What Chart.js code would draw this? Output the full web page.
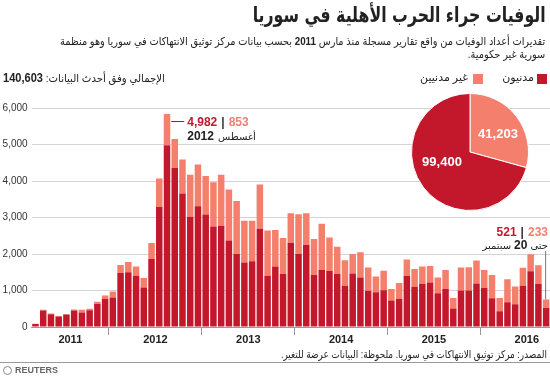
<!DOCTYPE html>
<html lang="ar">
<head>
<meta charset="utf-8">
<script src="https://cdn.jsdelivr.net/npm/chart.js@4"></script>
<style>
  body { margin: 0; background: #fff; }
  #box { position: relative; width: 550px; height: 377px; overflow: hidden; font-family: 'Liberation Sans', 'DejaVu Sans', sans-serif; color: #222; }
  #box canvas { position: absolute; }
  .txt { position: absolute; white-space: nowrap; }
  .r { transform-origin: right center; }
  .l { transform-origin: left center; }
  .sq { position: absolute; width: 10px; height: 10px; }
</style>
</head>
<body>
<div id="box">
  <canvas id="barChart" width="550" height="377" style="left:0;top:0"></canvas>
  <canvas id="pieChart" width="118" height="118" style="left:411px;top:93px"></canvas>

  <div class="txt r" dir="rtl" style="right:4px;top:3px;font:bold 21px 'DejaVu Sans';transform:scaleX(0.75)">الوفيات جراء الحرب الأهلية في سوريا</div>
  <div class="txt r" dir="rtl" style="right:5px;top:35px;font-size:11px;line-height:13px;text-align:right;transform:scaleX(0.89)">تقديرات أعداد الوفيات من واقع تقارير مسجلة منذ مارس <b>2011</b> بحسب بيانات مركز توثيق الانتهاكات في سوريا وهو منظمة<br>سورية غير حكومية.</div>

  <div class="sq" style="left:537px;top:74px;background:#c3172b"></div>
  <div class="txt" dir="rtl" style="right:16px;top:71px;font-size:11px">مدنيون</div>
  <div class="sq" style="left:473px;top:74px;background:#f47f6c"></div>
  <div class="txt" dir="rtl" style="right:82px;top:71px;font-size:11px">غير مدنيين</div>
  <div class="txt l" dir="rtl" style="left:3px;top:71px;font-size:11px;transform:scaleX(0.92)">الإجمالي وفق أحدث البيانات: <b style="font-size:12px">140,603</b></div>

  <div class="txt r" dir="rtl" style="right:3px;top:348px;font-size:10.5px;transform:scaleX(0.85)">المصدر: مركز توثيق الانتهاكات في سوريا.  ملحوظة: البيانات عرضة للتغير.</div>
  <div style="position:absolute;left:0;top:362px;width:550px;height:1px;background:#999"></div>
  <div style="position:absolute;left:3px;top:366px;width:7px;height:7px;border:1.5px solid #888;border-radius:50%"></div>
  <div class="txt" style="left:15px;top:365px;font:bold 9px 'Liberation Sans';color:#666">REUTERS</div>
</div>

<script>
const months = [
  '2011-03','2011-04','2011-05','2011-06','2011-07','2011-08','2011-09','2011-10','2011-11','2011-12',
  '2012-01','2012-02','2012-03','2012-04','2012-05','2012-06','2012-07','2012-08','2012-09','2012-10','2012-11','2012-12',
  '2013-01','2013-02','2013-03','2013-04','2013-05','2013-06','2013-07','2013-08','2013-09','2013-10','2013-11','2013-12',
  '2014-01','2014-02','2014-03','2014-04','2014-05','2014-06','2014-07','2014-08','2014-09','2014-10','2014-11','2014-12',
  '2015-01','2015-02','2015-03','2015-04','2015-05','2015-06','2015-07','2015-08','2015-09','2015-10','2015-11','2015-12',
  '2016-01','2016-02','2016-03','2016-04','2016-05','2016-06','2016-07','2016-08','2016-09'
];
// مدنيون
const civilians = [
  80,450,350,290,340,450,400,460,630,765,
  810,1480,1500,1405,1085,1865,3290,4982,4355,3655,3020,3305,
  3080,2755,2775,2370,2000,1770,1800,2690,1405,1660,1450,2310,
  2000,2250,1424,1562,1534,1451,1129,1468,1358,992,955,1010,
  725,771,1397,1102,1185,1220,928,1038,510,1000,1000,1195,
  1066,790,432,680,625,1129,1524,1176,521
];
// غير مدنيين
const nonCivilians = [
  10,20,20,10,10,30,70,40,60,95,
  165,220,280,250,255,435,780,853,795,935,1150,1150,
  1060,1210,1395,1395,1450,1140,1110,1215,1240,1000,985,805,
  1090,865,990,1265,920,745,700,535,690,635,430,530,
  315,435,455,485,475,450,430,525,285,630,640,625,
  495,635,365,625,485,495,470,515,233
];
// month under each year label
const yearTicks = {'2011-07':'2011','2012-06':'2012','2013-06':'2013','2014-06':'2014','2015-06':'2015','2016-06':'2016'};
const pieLabels = ['غير مدنيين','مدنيون'];
const pieValues = [41203, 99400];

const darkRed = '#c3172b';
const lightRed = '#f47f6c';
const gridGrey = '#d4d4d4';

const notes = {
  id: 'notes',
  afterDatasetsDraw(chart) {
    const { ctx, scales: { x, y } } = chart;
    const fmt = v => v.toLocaleString('en-US');
    ctx.save();
    ctx.textBaseline = 'alphabetic';

    // peak month
    const i = months.indexOf('2012-08');
    const bar = chart.getDatasetMeta(1).data[i];
    const top = y.getPixelForValue(civilians[i] + nonCivilians[i]);
    const right = bar.x + bar.width / 2;
    ctx.strokeStyle = '#444'; ctx.lineWidth = 1;
    ctx.beginPath(); ctx.moveTo(right + 1, top + 7.5); ctx.lineTo(right + 14, top + 7.5); ctx.stroke();
    let tx = right + 17, ty = top + 12;
    ctx.textAlign = 'left';
    ctx.font = 'bold 12px "Liberation Sans"';
    ctx.fillStyle = darkRed; ctx.fillText(fmt(civilians[i]), tx, ty);
    tx += ctx.measureText(fmt(civilians[i])).width + 4;
    ctx.fillStyle = '#333'; ctx.fillText('|', tx, ty);
    tx += ctx.measureText('|').width + 4;
    ctx.fillStyle = lightRed; ctx.fillText(fmt(nonCivilians[i]), tx, ty);
    tx = right + 17; ty += 14;
    ctx.fillStyle = '#222'; ctx.fillText('2012', tx, ty);
    tx += ctx.measureText('2012').width + 4;
    ctx.font = '10px "DejaVu Sans"'; ctx.fillText('أغسطس', tx, ty);

    // latest month
    const j = months.length - 1;
    const last = chart.getDatasetMeta(1).data[j];
    const top2 = y.getPixelForValue(civilians[j] + nonCivilians[j]);
    ctx.strokeStyle = '#777';
    ctx.beginPath(); ctx.moveTo(last.x - 0.5, 251); ctx.lineTo(last.x - 0.5, top2); ctx.stroke();
    let rx = 548; ty = 236;
    ctx.textAlign = 'right';
    ctx.font = 'bold 12px "Liberation Sans"';
    ctx.fillStyle = lightRed; ctx.fillText(fmt(nonCivilians[j]), rx, ty);
    rx -= ctx.measureText(fmt(nonCivilians[j])).width + 4;
    ctx.fillStyle = '#333'; ctx.fillText('|', rx, ty);
    rx -= ctx.measureText('|').width + 4;
    ctx.fillStyle = darkRed; ctx.fillText(fmt(civilians[j]), rx, ty);
    rx = 548; ty += 13;
    ctx.fillStyle = '#222';
    ctx.font = '10px "DejaVu Sans"'; ctx.fillText('حتى', rx, ty);
    rx -= ctx.measureText('حتى').width + 3;
    ctx.font = 'bold 12px "Liberation Sans"'; ctx.fillText('20', rx, ty);
    rx -= ctx.measureText('20').width + 3;
    ctx.font = '10px "DejaVu Sans"'; ctx.fillText('سبتمبر', rx, ty);
    ctx.restore();
  }
};

new Chart(document.getElementById('barChart'), {
  type: 'bar',
  data: {
    labels: months,
    datasets: [
      { label: 'مدنيون', data: civilians, backgroundColor: darkRed },
      { label: 'غير مدنيين', data: nonCivilians, backgroundColor: lightRed }
    ]
  },
  options: {
    responsive: false,
    animation: false,
    layout: { padding: { top: 108, bottom: 30, left: 0, right: 0 } },
    datasets: { bar: { categoryPercentage: 1, barPercentage: 0.84 } },
    plugins: { legend: { display: false }, tooltip: { enabled: false } },
    scales: {
      x: {
        stacked: true,
        border: { color: '#999' },
        grid: {
          offset: true,
          drawOnChartArea: false,
          tickLength: 8,
          color: c => (months[c.index] || '').endsWith('-01') ? '#999' : 'rgba(0,0,0,0)'
        },
        ticks: {
          autoSkip: false,
          maxRotation: 0,
          labelOffset: 3.9,
          padding: -2,
          color: '#222',
          font: { family: 'Liberation Sans', weight: 'bold', size: 11 },
          callback: (v, i) => yearTicks[months[i]] || ''
        },
        afterFit(s) { s.height = 20; }
      },
      y: {
        stacked: true,
        min: 0,
        max: 6000,
        border: { display: false },
        grid: {
          color: c => c.tick.value === 0 ? '#999' : gridGrey,
          drawTicks: false
        },
        ticks: {
          stepSize: 1000,
          padding: 4,
          color: '#333',
          font: { family: 'Liberation Sans', size: 10 }
        },
        afterFit(s) { s.width = 31.6; }
      }
    }
  },
  plugins: [notes]
});

const pieText = {
  id: 'pieText',
  afterDatasetsDraw(chart) {
    const { ctx } = chart;
    const arcs = chart.getDatasetMeta(0).data;
    const shift = [[28, -18], [-28, 10]];
    ctx.save();
    ctx.font = 'bold 13px "Liberation Sans"';
    ctx.fillStyle = '#fff';
    ctx.textAlign = 'center';
    ctx.textBaseline = 'middle';
    arcs.forEach((a, k) => {
      ctx.fillText(pieValues[k].toLocaleString('en-US'), a.x + shift[k][0], a.y + shift[k][1]);
    });
    ctx.restore();
  }
};

new Chart(document.getElementById('pieChart'), {
  type: 'pie',
  data: {
    labels: pieLabels,
    datasets: [{ data: pieValues, backgroundColor: [lightRed, darkRed], borderColor: '#fff', borderWidth: 1 }]
  },
  options: {
    responsive: false,
    animation: false,
    plugins: { legend: { display: false }, tooltip: { enabled: false } }
  },
  plugins: [pieText]
});
</script>
</body>
</html>
